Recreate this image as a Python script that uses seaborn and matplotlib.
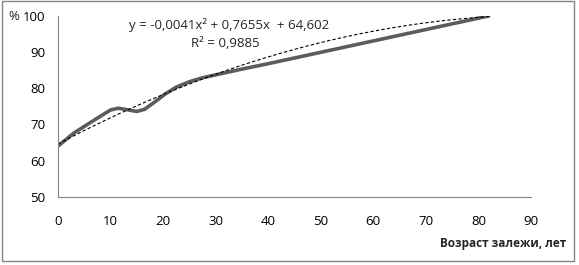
import numpy as np
import pandas as pd
import matplotlib.pyplot as plt
from matplotlib.patches import Rectangle
import seaborn as sns

# values
age = [0, 3, 7, 10, 11.5, 13.5, 15, 16.5, 18.5, 20.5, 22.5, 25, 27.5, 30, 35, 40, 82]
share = [64.0, 67.6, 71.3, 74.0, 74.5, 74.0, 73.6, 74.2, 76.3, 78.5, 80.3, 81.8, 82.9,
         83.7, 85.3, 86.8, 100.0]

# polynomial trend shown on the chart
trend_coef = [-0.0041, 0.7655, 64.602]
equation_text = "y = -0,0041x² + 0,7655x  + 64,602"
r2_text = "R² = 0,9885"

x_ticks = list(range(0, 100, 10))
y_ticks = list(range(50, 110, 10))

sns.set_style("white")
plt.rcParams["font.family"] = ["Open Sans", "DejaVu Sans"]

fig = plt.figure(figsize=(5.79, 2.65), dpi=100)
ax = fig.add_axes([0.100, 0.257, 0.817, 0.683])

df = pd.DataFrame({"age": age, "share": share})
sns.lineplot(data=df, x="age", y="share", ax=ax, color="#5c5c5c", linewidth=2.6,
             solid_capstyle="round", solid_joinstyle="round", sort=False)

xt = np.linspace(0, age[-1], 200)
trend = np.polyval(trend_coef, xt)
sns.lineplot(x=xt, y=trend, ax=ax, color="black", linewidth=0.8, linestyle=(0, (3, 2)))

ax.set_xlim(0, 90)
ax.set_ylim(50, 100)
ax.set_xticks(x_ticks)
ax.set_yticks(y_ticks)
ax.set_xlabel("")
ax.set_ylabel("")
for s in ["top", "right"]:
    ax.spines[s].set_visible(False)
for s in ["left", "bottom"]:
    ax.spines[s].set_color("#868686")
    ax.spines[s].set_linewidth(0.8)
ax.tick_params(axis="both", direction="out", length=4, width=0.8, color="#868686",
               labelsize=9.5, labelcolor="black")
ax.tick_params(axis="x", pad=9)
ax.tick_params(axis="y", pad=5)

fig.text(8 / 579, 1 - 17 / 265, "%", fontsize=9.5, ha="left", va="center")
ax.text(32.5, 97.5, equation_text, fontsize=9.5, ha="center", va="center")
ax.text(31.8, 92.5, r2_text, fontsize=9.5, ha="center", va="center")
fig.text(566 / 579, 1 - 244 / 265, "Возраст залежи, лет", fontsize=8.5,
         fontweight="bold", ha="right", va="center")

fig.patches.append(Rectangle((2 / 579, 4 / 265), 572 / 579, 260 / 265,
                             transform=fig.transFigure, fill=False,
                             edgecolor="#868686", linewidth=1))

fig.savefig("out.png", dpi=100)
